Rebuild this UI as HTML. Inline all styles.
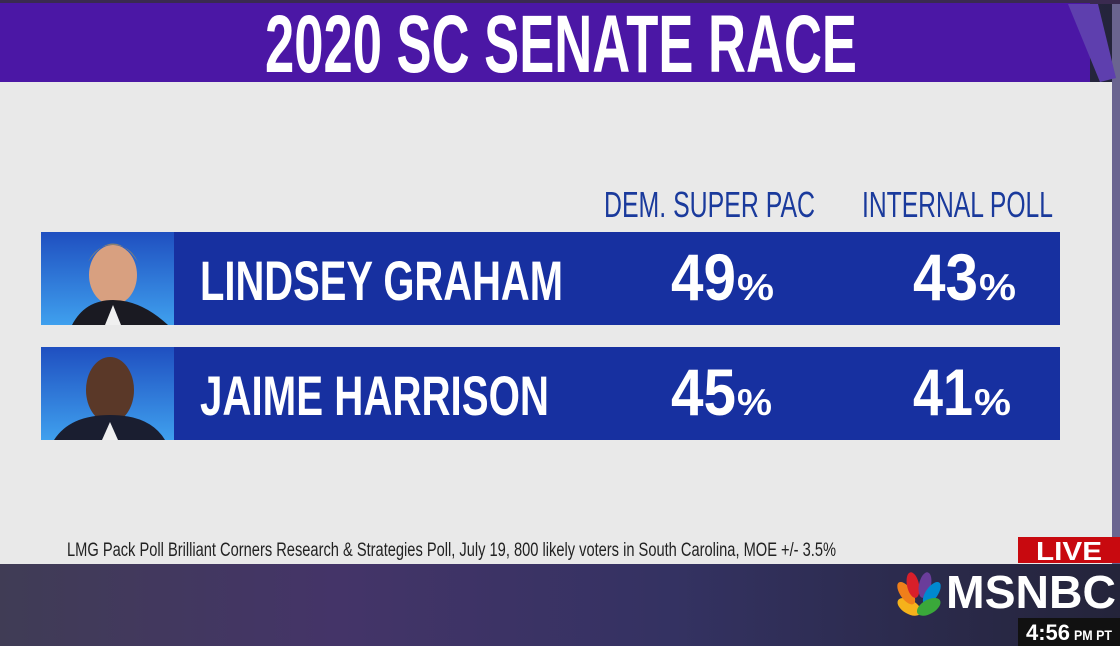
<!DOCTYPE html>
<html><head><meta charset="utf-8"><style>
html,body{margin:0;padding:0;width:1120px;height:646px;overflow:hidden;background:#2a2440}
svg{display:block}
text{font-family:"Liberation Sans Narrow","Liberation Sans",sans-serif;font-weight:bold}
</style></head><body>
<svg width="1120" height="646" viewBox="0 0 1120 646" xmlns="http://www.w3.org/2000/svg">
<defs>
<linearGradient id="bg" x1="0" y1="0" x2="1" y2="0">
<stop offset="0" stop-color="#403c55"/><stop offset="0.3" stop-color="#443468"/><stop offset="0.6" stop-color="#343262"/><stop offset="1" stop-color="#24243a"/>
</linearGradient>
<linearGradient id="ph" x1="0" y1="0" x2="0" y2="1">
<stop offset="0" stop-color="#1f4fc0"/><stop offset="1" stop-color="#3fa0ee"/>
</linearGradient>
</defs>
<rect width="1120" height="646" fill="url(#bg)"/>
<rect x="1112" y="0" width="8" height="564" fill="#6a6490"/>
<rect x="0" y="0" width="1120" height="4" fill="#3a2a50"/>
<rect x="0" y="3" width="1090" height="79" fill="#4b17a5"/>
<polygon points="1068,4 1098,4 1116,78 1100,82" fill="#5e3fae"/>
<text x="265" y="72" font-size="82" fill="#fff" textLength="592" lengthAdjust="spacingAndGlyphs">2020 SC SENATE RACE</text>
<rect x="0" y="82" width="1112" height="482" fill="#e9e9e9"/>
<text x="604" y="217" font-size="36" fill="#1a3a9c" style="font-weight:normal" textLength="211" lengthAdjust="spacingAndGlyphs">DEM. SUPER PAC</text>
<text x="862" y="217" font-size="36" fill="#1a3a9c" style="font-weight:normal" textLength="191" lengthAdjust="spacingAndGlyphs">INTERNAL POLL</text>

<rect x="41" y="232" width="1019" height="93" fill="#1730a0"/>
<rect x="41" y="232" width="133" height="93" fill="url(#ph)"/>
<ellipse cx="113" cy="275" rx="24" ry="30" fill="#d8a080"/>
<path d="M88,262 Q113,225 138,262 Q130,245 113,245 Q96,245 88,262Z" fill="#8a8070"/>
<path d="M72,325 Q85,300 113,300 Q141,300 168,325Z" fill="#1a1a22"/>
<path d="M105,325 L113,305 L121,325Z" fill="#f0f0f0"/>
<text x="200" y="300" font-size="56" fill="#fff" textLength="363" lengthAdjust="spacingAndGlyphs">LINDSEY GRAHAM</text>
<text x="671" y="300" font-size="66" fill="#fff" textLength="65" lengthAdjust="spacingAndGlyphs">49</text>
<text x="737" y="300" font-size="37" fill="#fff" textLength="37" lengthAdjust="spacingAndGlyphs">%</text>
<text x="913" y="300" font-size="66" fill="#fff" textLength="65" lengthAdjust="spacingAndGlyphs">43</text>
<text x="979" y="300" font-size="37" fill="#fff" textLength="37" lengthAdjust="spacingAndGlyphs">%</text>

<rect x="41" y="347" width="1019" height="93" fill="#1730a0"/>
<rect x="41" y="347" width="133" height="93" fill="url(#ph)"/>
<ellipse cx="110" cy="390" rx="24" ry="33" fill="#5a3828"/>
<path d="M54,440 Q70,415 110,415 Q150,415 165,440Z" fill="#1a1e30"/>
<path d="M102,440 L110,422 L118,440Z" fill="#f0f0f0"/>
<text x="200" y="415" font-size="56" fill="#fff" textLength="349" lengthAdjust="spacingAndGlyphs">JAIME HARRISON</text>
<text x="671" y="415" font-size="66" fill="#fff" textLength="65" lengthAdjust="spacingAndGlyphs">45</text>
<text x="737" y="415" font-size="37" fill="#fff" textLength="35" lengthAdjust="spacingAndGlyphs">%</text>
<text x="913" y="415" font-size="66" fill="#fff" textLength="60" lengthAdjust="spacingAndGlyphs">41</text>
<text x="974" y="415" font-size="37" fill="#fff" textLength="37" lengthAdjust="spacingAndGlyphs">%</text>

<text x="67" y="556" font-size="19" fill="#222" style="font-weight:normal" textLength="769" lengthAdjust="spacingAndGlyphs">LMG Pack Poll Brilliant Corners Research &amp; Strategies Poll, July 19, 800 likely voters in South Carolina, MOE +/- 3.5%</text>

<rect x="1018" y="537" width="102" height="26" fill="#c8090f"/>
<text x="1036" y="560" font-size="26" fill="#fff" textLength="66" lengthAdjust="spacingAndGlyphs">LIVE</text>
<g transform="translate(919,594)">
<ellipse cx="-16" cy="-2" rx="7" ry="13" fill="#f5b21b" transform="rotate(-60)"/>
<ellipse cx="-10" cy="-8" rx="6" ry="13" fill="#ef7f1a" transform="rotate(-35)"/>
<ellipse cx="-4" cy="-10" rx="6" ry="13" fill="#d81f2a" transform="rotate(-12)"/>
<ellipse cx="4" cy="-10" rx="6" ry="13" fill="#6a3d9a" transform="rotate(12)"/>
<ellipse cx="10" cy="-8" rx="6" ry="13" fill="#0089d0" transform="rotate(35)"/>
<ellipse cx="16" cy="-2" rx="7" ry="13" fill="#3aa83a" transform="rotate(60)"/>
</g>
<text x="946" y="608" font-size="46" fill="#fff" textLength="170" lengthAdjust="spacingAndGlyphs">MSNBC</text>
<rect x="1018" y="618" width="102" height="28" fill="#111"/>
<text x="1026" y="640" font-size="22" fill="#fff" textLength="44" lengthAdjust="spacingAndGlyphs">4:56</text>
<text x="1074" y="640" font-size="14" fill="#fff" textLength="38" lengthAdjust="spacingAndGlyphs">PM PT</text>
</svg>
</body></html>
